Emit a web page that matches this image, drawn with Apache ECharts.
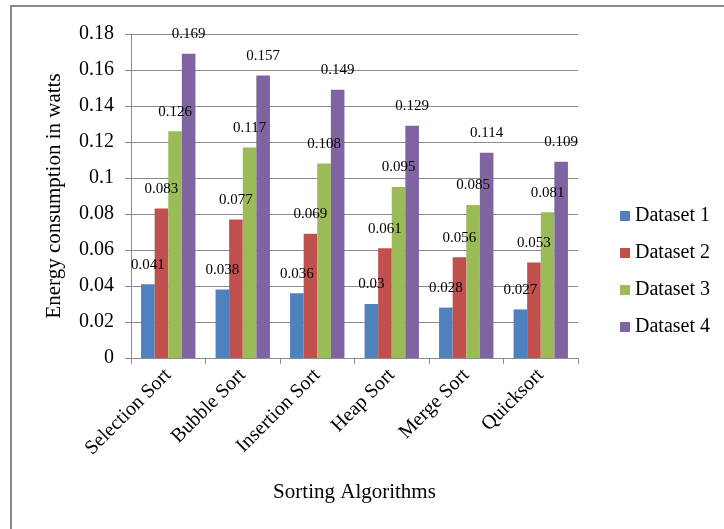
<!DOCTYPE html>
<html>
<head>
<meta charset="utf-8">
<script src="https://cdn.jsdelivr.net/npm/echarts@6/dist/echarts.min.js"></script>
<style>
  html, body { margin: 0; padding: 0; background: #fff; }
  #chart { width: 724px; height: 529px; }
</style>
</head>
<body>
<div id="chart"></div>
<script>
var algorithms = ['Selection Sort', 'Bubble Sort', 'Insertion Sort', 'Heap Sort', 'Merge Sort', 'Quicksort'];
var dataset1 = [0.041, 0.038, 0.036, 0.03, 0.028, 0.027];
var dataset2 = [0.083, 0.077, 0.069, 0.061, 0.056, 0.053];
var dataset3 = [0.126, 0.117, 0.108, 0.095, 0.085, 0.081];
var dataset4 = [0.169, 0.157, 0.149, 0.129, 0.114, 0.109];
var seriesNames = ['Dataset 1', 'Dataset 2', 'Dataset 3', 'Dataset 4'];
var colors = ['#4F81BD', '#C0504D', '#9BBB59', '#8064A2'];

var font = 'Liberation Serif, Times New Roman, serif';

function bar(name, data, color) {
  return {
    name: name,
    type: 'bar',
    data: data,
    barGap: '0%',
    barCategoryGap: '27%',
    itemStyle: { color: color },
    label: {
      show: true,
      position: 'top',
      distance: 12,
      color: '#000',
      fontFamily: font,
      fontSize: 15
    }
  };
}

var chart = echarts.init(document.getElementById('chart'));
var option = {
  animation: false,
  textStyle: { fontFamily: font },
  grid: { left: 131, right: 146, top: 34, bottom: 171 },
  legend: {
    orient: 'vertical',
    left: 615,
    top: 201,
    itemWidth: 10,
    itemHeight: 10,
    itemGap: 17,
    itemTextGap: 5,
    icon: 'rect',
    textStyle: { fontFamily: font, fontSize: 20, color: '#000', lineHeight: 20 },
    data: seriesNames
  },
  xAxis: {
    type: 'category',
    data: algorithms,
    name: 'Sorting Algorithms',
    nameLocation: 'middle',
    nameGap: 124,
    nameTextStyle: { fontFamily: font, fontSize: 21, color: '#000' },
    axisLine: { lineStyle: { color: '#8c8c8c' } },
    axisTick: { show: true, length: 6, lineStyle: { color: '#8c8c8c' } },
    axisLabel: { rotate: 45, margin: 14, fontFamily: font, fontSize: 20, color: '#000', interval: 0 }
  },
  yAxis: {
    type: 'value',
    min: 0,
    max: 0.18,
    interval: 0.02,
    name: 'Energy consumption in watts',
    nameLocation: 'middle',
    nameGap: 66,
    nameTextStyle: { fontFamily: font, fontSize: 21, color: '#000' },
    axisLine: { show: true, lineStyle: { color: '#8c8c8c' } },
    axisTick: { show: true, length: 6, lineStyle: { color: '#8c8c8c' } },
    splitLine: { lineStyle: { color: '#8c8c8c' } },
    axisLabel: {
      margin: 17,
      fontFamily: font,
      fontSize: 20,
      color: '#000',
      formatter: function (v) { return v === 0 ? '0' : String(+v.toFixed(2)); }
    }
  },
  graphic: [
    { type: 'line', shape: { x1: 10, y1: 6, x2: 724, y2: 6 }, style: { stroke: '#888', lineWidth: 2 } },
    { type: 'line', shape: { x1: 11, y1: 5, x2: 11, y2: 529 }, style: { stroke: '#888', lineWidth: 2 } }
  ],
  series: [
    bar(seriesNames[0], dataset1, colors[0]),
    bar(seriesNames[1], dataset2, colors[1]),
    bar(seriesNames[2], dataset3, colors[2]),
    bar(seriesNames[3], dataset4, colors[3])
  ]
};
chart.setOption(option);
</script>
</body>
</html>
